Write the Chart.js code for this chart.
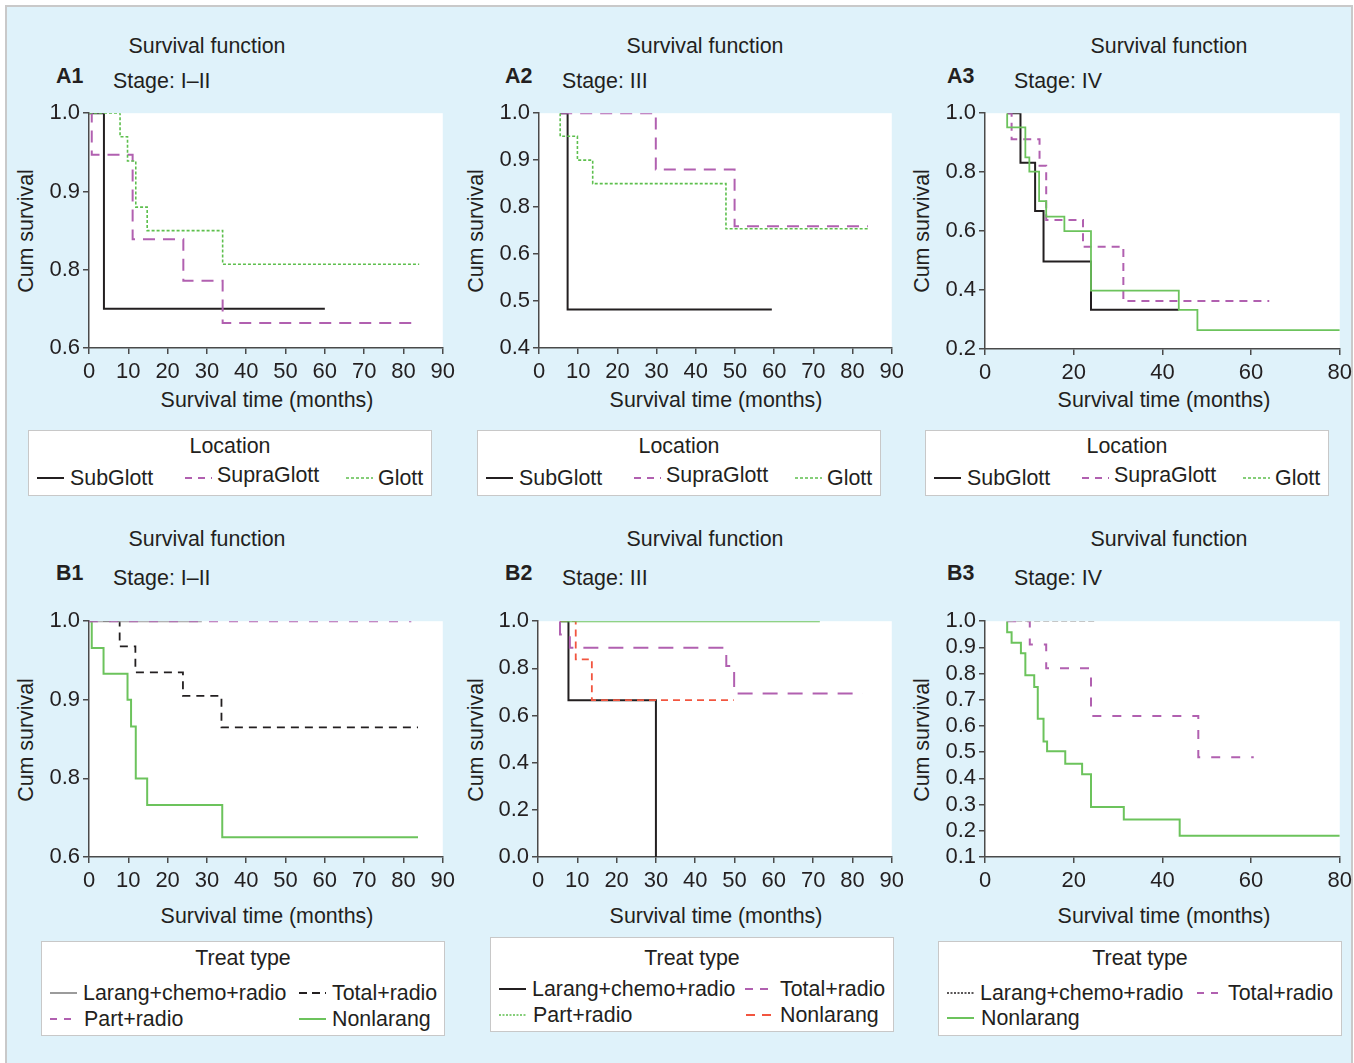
<!DOCTYPE html>
<html lang="en">
<head>
<meta charset="UTF-8">
<title>Survival function by location and treat type</title>
<script src="https://cdn.jsdelivr.net/npm/chart.js"></script>
<style>
  body { margin: 0; background: #fff; font-family: "Liberation Sans", Arial, sans-serif; color: #231f20; }
  .frame { position: absolute; left: 5px; top: 5px; width: 1344px; height: 1070px; background: #dff2fa; border: 2px solid #c9c9c9; border-bottom: none; }
  .txt { position: absolute; font-size: 21.4px; line-height: 24px; white-space: nowrap; }
  .mid { transform: translateX(-50%); }
  .bold { font-weight: bold; }
  .rot { transform: translate(-50%, -50%) rotate(-90deg); }
  .box { position: absolute; background: #fff; border: 1px solid #c8c8c8; box-sizing: border-box; }
  .wrap { position: absolute; }
  svg.key { position: absolute; overflow: visible; }
</style>
</head>
<body>
<div class="frame"></div>
<div id="page"></div>

<script>
// ---- data: survival curves, [time in months, cum survival] at each step ----
// (y values follow the drawn tick spacing of each panel)
const a1SubGlott   = [[0, 1], [3.8, 0.75], [60, 0.75]];
const a1SupraGlott = [[0, 1], [0.7, 0.947], [11.1, 0.839], [24, 0.786], [34, 0.732], [84, 0.732]];
const a1Glott      = [[0, 1], [7.9, 0.97], [9.8, 0.939], [11.9, 0.88], [14.8, 0.85], [34, 0.807], [84, 0.807]];

const a2SubGlott   = [[5.4, 1], [7.3, 0.582], [59.4, 0.582]];
const a2SupraGlott = [[5.4, 1], [29.8, 0.88], [49.9, 0.759], [83.9, 0.759]];
const a2Glott      = [[5.4, 1], [5.4, 0.951], [9.8, 0.9], [13.7, 0.85], [47.7, 0.754], [83.9, 0.754]];

const a3SubGlott   = [[5, 1], [8, 0.832], [11.3, 0.668], [13.2, 0.497], [23.9, 0.333], [43.7, 0.333]];
const a3SupraGlott = [[5, 1], [6, 0.912], [12.3, 0.822], [13.8, 0.638], [22.1, 0.547], [31.2, 0.363], [64.1, 0.363]];
const a3Glott      = [[5, 1], [5, 0.952], [9.1, 0.85], [10, 0.802], [12.2, 0.702], [13.8, 0.649], [17.9, 0.6],
                      [23.9, 0.398], [43.7, 0.333], [47.9, 0.264], [80, 0.264]];

const b1LarangChemo = [[0, 1], [28.7, 1]];
const b1TotalRadio  = [[0, 1], [7.8, 0.968], [11.8, 0.935], [23.9, 0.905], [33.7, 0.865], [83.7, 0.865]];
const b1PartRadio   = [[0, 1], [82, 1]];
const b1Nonlarang   = [[0, 1], [0.7, 0.966], [3.7, 0.933], [9.8, 0.9], [10.7, 0.866], [11.9, 0.8], [14.8, 0.766],
                       [33.9, 0.725], [83.7, 0.725]];

const b2LarangChemo = [[5.6, 1], [7.75, 0.665], [30, 0]];
const b2TotalRadio  = [[5.6, 1], [5.6, 0.944], [8.1, 0.887], [47.9, 0.81], [49.9, 0.693], [82.6, 0.693]];
const b2PartRadio   = [[5.8, 1], [71.7, 1]];
const b2Nonlarang   = [[5.6, 1], [9.6, 0.838], [13.7, 0.665], [49.8, 0.665]];

const b3LarangChemo = [[5, 1], [24.8, 1]];
const b3TotalRadio  = [[5, 1], [10.1, 0.911], [13.8, 0.82], [23.9, 0.638], [48.1, 0.481], [60.6, 0.481]];
const b3Nonlarang   = [[5, 1], [5, 0.958], [6, 0.918], [8.1, 0.878], [9.1, 0.794], [11.1, 0.749], [11.9, 0.628],
                       [13.2, 0.541], [14, 0.504], [18.1, 0.456], [21.9, 0.416], [23.9, 0.291], [31.3, 0.243],
                       [43.9, 0.181], [80, 0.181]];

// tick labels as printed on the figure (bottom to top)
const a1YTicks = ['0.6', '0.8', '0.9', '1.0'];
const a2YTicks = ['0.4', '0.5', '0.6', '0.8', '0.9', '1.0'];
const b1YTicks = ['0.6', '0.8', '0.9', '1.0'];

const locationLabels = ['SubGlott', 'SupraGlott', 'Glott'];
const treatLabels = ['Larang+chemo+radio', 'Total+radio', 'Part+radio', 'Nonlarang'];
const panelNames = ['A1', 'A2', 'A3', 'B1', 'B2', 'B3'];
const stageNames = ['Stage: I\u2013II', 'Stage: III', 'Stage: IV'];

// ---- styles ----
const BLACK = '#231f20', PURPLE = '#b160b0', GREEN = '#5dbf4d', GREEN2 = '#6cc35c', GREY = '#9b9b9b', RED = '#f2553f';
const sty = {
  sub:    { color: BLACK, dash: [], w: 2 },
  supra:  { color: PURPLE, dash: [12, 8], w: 2 },
  supra3: { color: PURPLE, dash: [8, 6], w: 2 },
  glott:  { color: GREEN, dash: [3, 2], w: 1.6 },
  glottS: { color: GREEN2, dash: [], w: 1.8 },
  grey:   { color: GREY, dash: [], w: 2 },
  blkDash:{ color: BLACK, dash: [8, 6], w: 1.8 },
  purDash:{ color: PURPLE, dash: [9, 11], w: 2 },
  purLong:{ color: PURPLE, dash: [15, 10], w: 2 },
  grnS:   { color: GREEN2, dash: [], w: 2 },
  red:    { color: RED, dash: [7, 5], w: 1.8 },
  greyDot:{ color: '#b5b5b5', dash: [6, 3], w: 1.6 },
  blkDot: { color: BLACK, dash: [2, 1.5], w: 1.4 },
  grnDot: { color: GREEN, dash: [2, 1.5], w: 1.6 }
};

const page = document.getElementById('page');
function addText(str, x, y, cls) {
  const d = document.createElement('div');
  d.className = 'txt ' + (cls || '');
  d.textContent = str;
  d.style.left = x + 'px';
  d.style.top = (y - 12) + 'px';
  page.appendChild(d);
  return d;
}
function addKey(x, y, s) {
  const ns = 'http://www.w3.org/2000/svg';
  const svg = document.createElementNS(ns, 'svg');
  svg.setAttribute('class', 'key');
  svg.setAttribute('width', 27); svg.setAttribute('height', 6);
  svg.style.left = x + 'px'; svg.style.top = (y - 3) + 'px';
  const ln = document.createElementNS(ns, 'line');
  ln.setAttribute('x1', 0); ln.setAttribute('x2', 27); ln.setAttribute('y1', 3); ln.setAttribute('y2', 3);
  ln.setAttribute('stroke', s.color); ln.setAttribute('stroke-width', s.w);
  if (s.dash.length) ln.setAttribute('stroke-dasharray', s.dash.join(' '));
  svg.appendChild(ln);
  page.appendChild(svg);
}
function addBox(x, y, w, h) {
  const d = document.createElement('div');
  d.className = 'box';
  d.style.left = x + 'px'; d.style.top = y + 'px';
  d.style.width = w + 'px'; d.style.height = h + 'px';
  page.appendChild(d);
}

const plotBg = {
  id: 'plotBg',
  beforeDraw(chart) {
    const { ctx, chartArea: a } = chart;
    ctx.save();
    ctx.fillStyle = '#fff';
    ctx.fillRect(a.left, a.top, a.right - a.left, a.bottom - a.top);
    ctx.restore();
  }
};

const YW = 70, XH = 40, PT = 15, PR = 15;
function makePanel(area, xMax, xStep, yMin, yStep, yLabels, series) {
  const w = YW + (area.r - area.l) + PR, h = PT + (area.b - area.t) + XH;
  const div = document.createElement('div');
  div.className = 'wrap';
  div.style.left = (area.l - YW) + 'px';
  div.style.top = (area.t - PT) + 'px';
  const cv = document.createElement('canvas');
  cv.width = w; cv.height = h;
  div.appendChild(cv);
  page.appendChild(div);
  const tickFont = { family: '"Liberation Sans", Arial, sans-serif', size: 22 };
  new Chart(cv, {
    type: 'line',
    data: {
      datasets: series.map(([data, s]) => ({
        data: data,
        borderColor: s.color,
        borderWidth: s.w,
        borderDash: s.dash,
        stepped: 'before',
        pointRadius: 0,
        fill: false
      }))
    },
    options: {
      responsive: false,
      animation: false,
      layout: { padding: { left: 0, top: PT, right: PR, bottom: 0 } },
      plugins: { legend: { display: false }, tooltip: { enabled: false } },
      scales: {
        x: {
          type: 'linear', min: 0, max: xMax,
          afterFit: sc => { sc.height = XH; },
          ticks: { stepSize: xStep, autoSkip: false, maxRotation: 0, color: BLACK, font: tickFont, padding: 5 },
          grid: { drawOnChartArea: false, drawTicks: true, tickLength: 6, color: '#4a4a4a', lineWidth: 1.5 },
          border: { display: true, color: '#4a4a4a', width: 1.5 }
        },
        y: {
          type: 'linear', min: yMin, max: 1,
          afterFit: sc => { sc.width = YW; },
          ticks: {
            stepSize: yStep, autoSkip: false, color: BLACK, font: tickFont, padding: 3,
            callback: (v, i) => yLabels ? yLabels[i] : Number(v).toFixed(1)
          },
          grid: { drawOnChartArea: false, drawTicks: true, tickLength: 6, color: '#4a4a4a', lineWidth: 1.5 },
          border: { display: true, color: '#4a4a4a', width: 1.5 }
        }
      }
    },
    plugins: [plotBg]
  });
}

// ---- panel texts ----
const colX = [{ title: 207, name: 56, stage: 113, ylab: 26, xlab: 267 },
              { title: 705, name: 505, stage: 562, ylab: 476, xlab: 716 },
              { title: 1169, name: 947, stage: 1014, ylab: 922, xlab: 1164 }];
const rowY = [{ title: 46, name: 76, stage: 81, ylab: 231, xlab: 400 },
              { title: 539, name: 573, stage: 578, ylab: 740, xlab: 916 }];
rowY.forEach((r, ri) => colX.forEach((c, ci) => {
  addText('Survival function', c.title, r.title, 'mid');
  addText(panelNames[ri * 3 + ci], c.name, r.name, 'bold');
  addText(stageNames[ci], c.stage, r.stage);
  const yl = addText('Cum survival', c.ylab, r.ylab, 'rot');
  yl.style.top = r.ylab + 'px';
  addText('Survival time (months)', c.xlab, r.xlab, 'mid');
}));

// ---- charts ----
makePanel({ l: 89, r: 445, t: 112, b: 348 }, 90, 10, 0.7, 0.1, a1YTicks,
  [[a1Glott, sty.glott], [a1SupraGlott, sty.supra], [a1SubGlott, sty.sub]]);
makePanel({ l: 539, r: 894, t: 112, b: 348 }, 90, 10, 0.5, 0.1, a2YTicks,
  [[a2Glott, sty.glott], [a2SupraGlott, sty.supra], [a2SubGlott, sty.sub]]);
makePanel({ l: 985, r: 1342, t: 112, b: 349 }, 80, 20, 0.2, 0.2, null,
  [[a3Glott, sty.glottS], [a3SupraGlott, sty.supra3], [a3SubGlott, sty.sub]]);
makePanel({ l: 89, r: 445, t: 620, b: 857 }, 90, 10, 0.7, 0.1, b1YTicks,
  [[b1PartRadio, sty.purDash], [b1LarangChemo, sty.grey], [b1TotalRadio, sty.blkDash], [b1Nonlarang, sty.grnS]]);
makePanel({ l: 538, r: 894, t: 620, b: 857 }, 90, 10, 0, 0.2, null,
  [[b2PartRadio, sty.grnS], [b2TotalRadio, sty.purLong], [b2Nonlarang, sty.red], [b2LarangChemo, sty.sub]]);
makePanel({ l: 985, r: 1342, t: 620, b: 857 }, 80, 20, 0.1, 0.1, null,
  [[b3LarangChemo, sty.greyDot], [b3TotalRadio, sty.purDash], [b3Nonlarang, sty.grnS]]);

// ---- legends ----
[0, 449, 897].forEach((dx, i) => {
  addBox(28 + dx, 430, 404, 66);
  addText('Location', 230 + dx, 446, 'mid');
  const keys = [sty.sub, i === 2 ? sty.supra3 : sty.supra, sty.glott];
  const kx = [37, 185, 346], tx = [70, 217, 378];
  locationLabels.forEach((lab, j) => {
    addKey(kx[j] + dx, 478, { color: keys[j].color, dash: j === 1 ? [7, 6] : keys[j].dash, w: keys[j].w });
    addText(lab, tx[j] + dx, j === 1 ? 475 : 478);
  });
});

const treatLegends = [
  { box: [41, 941], title: [243, 958], rows: [993, 1019],
    items: [[0, sty.grey, 50, 83, 0], [1, { color: BLACK, dash: [8, 5], w: 1.8 }, 299, 332, 0],
            [2, { color: PURPLE, dash: [7, 7], w: 2 }, 50, 84, 1], [3, sty.grnS, 299, 332, 1]] },
  { box: [490, 937], title: [692, 958], rows: [989, 1015],
    items: [[0, sty.sub, 499, 532, 0], [1, { color: PURPLE, dash: [8, 7], w: 2 }, 745, 780, 0],
            [2, sty.grnDot, 499, 533, 1], [3, { color: RED, dash: [9, 7], w: 1.8 }, 746, 780, 1]] },
  { box: [938, 941], title: [1140, 958], rows: [993, 1018],
    items: [[0, sty.blkDot, 947, 980, 0], [1, { color: PURPLE, dash: [7, 7], w: 2 }, 1197, 1228, 0],
            [3, sty.grnS, 947, 981, 1]] }
];
treatLegends.forEach(L => {
  addBox(L.box[0], L.box[1], 404, 95);
  addText('Treat type', L.title[0], L.title[1], 'mid');
  L.items.forEach(([li, s, kx, tx, row]) => {
    addKey(kx, L.rows[row], s);
    addText(treatLabels[li], tx, L.rows[row]);
  });
});
</script>
</body>
</html>
